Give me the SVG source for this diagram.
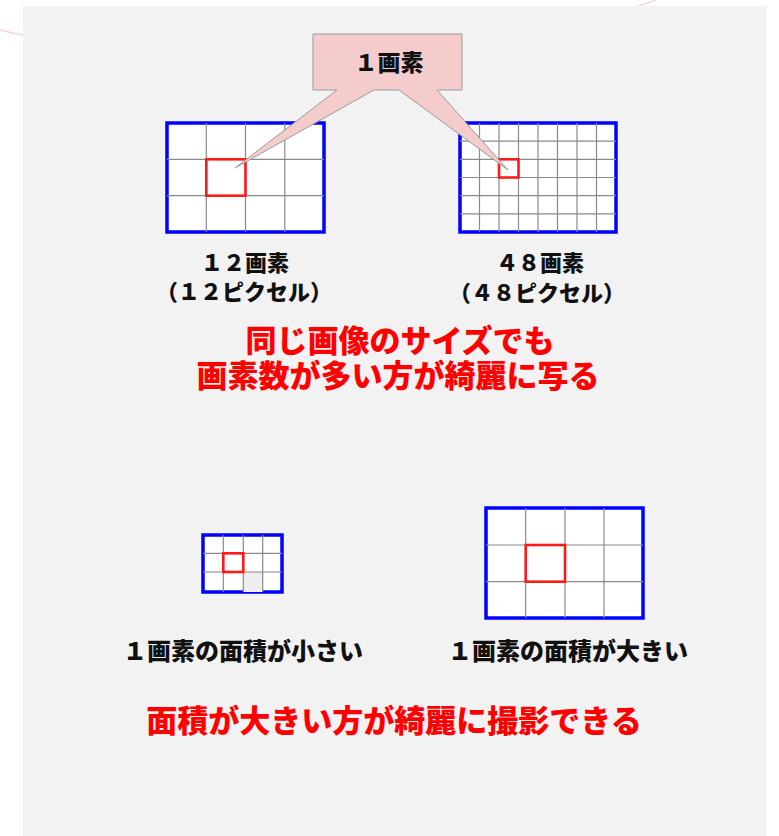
<svg xmlns="http://www.w3.org/2000/svg" width="779" height="836" viewBox="0 0 779 836">
<style>
.t{font-family:"Noto Sans CJK JP","Noto Sans",sans-serif;font-weight:900;text-anchor:middle}
.blk{fill:#111111}
.red{fill:#ff0000}
.frame{fill:#ffffff;stroke:#0000ff;stroke-width:3.5}
.grid{stroke:#8a8a8a;stroke-width:1.2;fill:none}
.sel{fill:none;stroke:#ff1a1a;stroke-width:2.6}
</style>
<rect x="0" y="0" width="779" height="836" fill="#ffffff"/>
<path d="M0,30 Q12,33 23,35" fill="none" stroke="#f1d6dc" stroke-width="1.5"/>
<path d="M638,6 Q648,3 656,0" fill="none" stroke="#f1d6dc" stroke-width="1.5"/>
<rect x="23" y="6" width="744" height="830" fill="#f2f2f2"/>

<g id="grid12">
<rect class="frame" x="167" y="123" width="157" height="109"/>
<path class="grid" d="M206.3,123V232M245.5,123V232M284.8,123V232M167,159.3H324M167,195.7H324"/>
<rect class="sel" x="206.3" y="159.3" width="39.2" height="36.4"/>
</g>

<g id="grid48">
<rect class="frame" x="460" y="123" width="156" height="109"/>
<path class="grid" d="M479.5,123V232M499,123V232M518.5,123V232M538,123V232M557.5,123V232M577,123V232M596.5,123V232M460,141.2H616M460,159.3H616M460,177.5H616M460,195.7H616M460,213.8H616"/>
<rect class="sel" x="499" y="159.3" width="19.5" height="18.2"/>
</g>

<g id="callout">
<polygon points="313,34 462,34 462,90 437,90 508,170 399,90 374,90 235,168 337,90 313,90" fill="#f4cccc" stroke="#9a9a9a" stroke-width="1"/>
<text class="t blk" x="389" y="71" font-size="23">１画素</text>
</g>

<g id="label12">
<text class="t blk" x="245" y="271" font-size="22">１２画素</text>
<text class="t blk" x="244" y="300" font-size="22">（１２ピクセル）</text>
</g>
<g id="label48">
<text class="t blk" x="540" y="271" font-size="22">４８画素</text>
<text class="t blk" x="537" y="301" font-size="22">（４８ピクセル）</text>
</g>

<g id="msg1">
<text class="t red" x="400" y="352" font-size="31">同じ画像のサイズでも</text>
<text class="t red" x="398" y="387" font-size="31">画素数が多い方が綺麗に写る</text>
</g>

<g id="gridSmall">
<rect class="frame" x="203" y="535" width="79" height="57"/>
<rect x="243.3" y="572" width="19.4" height="20" fill="#efefef"/>
<path class="grid" d="M223.3,535V592M243.3,535V592M262.7,535V592M203,553.3H282M203,572H282" stroke="#777"/>
<rect class="sel" x="223.3" y="553.3" width="20" height="18.7"/>
</g>

<g id="gridLarge">
<rect class="frame" x="486" y="508" width="157" height="110"/>
<path class="grid" d="M525.7,508V618M565,508V618M604,508V618M486,545H643M486,581.7H643" stroke="#777"/>
<rect class="sel" x="525.7" y="545" width="39.3" height="36.7"/>
</g>

<g id="labelSmall">
<text class="t blk" x="243" y="660" font-size="24">１画素の面積が小さい</text>
</g>
<g id="labelLarge">
<text class="t blk" x="568" y="660" font-size="24">１画素の面積が大きい</text>
</g>

<g id="msg2">
<text class="t red" x="394" y="732" font-size="31">面積が大きい方が綺麗に撮影できる</text>
</g>
</svg>
